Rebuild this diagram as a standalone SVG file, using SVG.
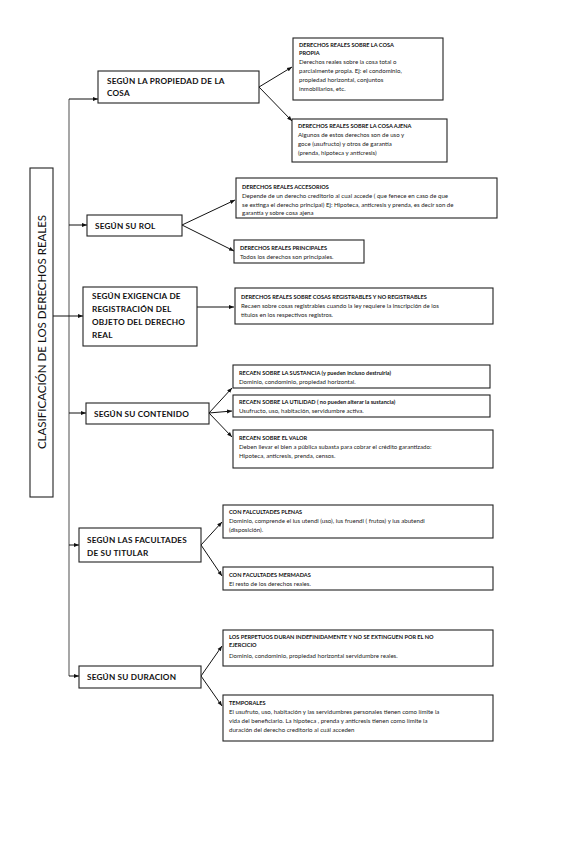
<svg xmlns="http://www.w3.org/2000/svg" width="587" height="848" viewBox="0 0 587 848">
<defs>
<marker id="ah" viewBox="0 0 10 10" refX="10" refY="5" markerWidth="5" markerHeight="5" orient="auto" markerUnits="userSpaceOnUse"><path d="M0,1 L10,5 L0,9 z" fill="#111"/></marker>
</defs>
<style>
.box{fill:#fff;stroke:#222;stroke-width:1.1}
.lt{font-family:Lato,"Open Sans","Liberation Sans",sans-serif;font-weight:bold;font-size:8.2px;fill:#111;letter-spacing:0.2px}
.ttl{font-family:Lato,"Open Sans","Liberation Sans",sans-serif;font-size:11.5px;fill:#111}
.h{font-family:Lato,"Open Sans","Liberation Sans",sans-serif;font-weight:bold;font-size:5.6px;fill:#111}
.t{font-family:Lato,"Open Sans","Liberation Sans",sans-serif;font-size:6.1px;fill:#222}
.c{fill:none;stroke:#111;stroke-width:1}
.v{fill:none;stroke:#777;stroke-width:1.3}
</style>
<rect width="587" height="848" fill="#fff"/>
<g id="connectors">
<path class="v" d="M69,99 V676"/>
<path class="c" d="M69,99 H98" marker-end="url(#ah)"/>
<path class="c" d="M69,225 H87" marker-end="url(#ah)"/>
<path class="c" d="M53,316 H83" marker-end="url(#ah)"/>
<path class="c" d="M69,413 H86" marker-end="url(#ah)"/>
<path class="c" d="M69,545 H79" marker-end="url(#ah)"/>
<path class="c" d="M69,676 H79" marker-end="url(#ah)"/>
<path class="c" d="M259,87 L292,67" marker-end="url(#ah)"/>
<path class="c" d="M259,87 L292,121" marker-end="url(#ah)"/>
<path class="c" d="M182,225 L235,200" marker-end="url(#ah)"/>
<path class="c" d="M182,225 L234,251" marker-end="url(#ah)"/>
<path class="c" d="M197,307 L234,307" marker-end="url(#ah)"/>
<path class="c" d="M209,413 L232,388" marker-end="url(#ah)"/>
<path class="c" d="M209,413 L232,411" marker-end="url(#ah)"/>
<path class="c" d="M209,413 L232,437" marker-end="url(#ah)"/>
<path class="c" d="M201,545 L222,522" marker-end="url(#ah)"/>
<path class="c" d="M201,545 L222,576" marker-end="url(#ah)"/>
<path class="c" d="M201,676 L222,646" marker-end="url(#ah)"/>
<path class="c" d="M201,676 L222,706" marker-end="url(#ah)"/>
</g>
<g id="title">
<rect class="box" x="30" y="168" width="23" height="329"/>
<text class="ttl" transform="translate(46,332) rotate(-90)" text-anchor="middle">CLASIFICACIÓN DE LOS DERECHOS REALES</text>
</g>
<g id="n1">
<rect class="box" x="98" y="71" width="161" height="32"/>
<text class="lt" x="107" y="84">SEGÚN LA PROPIEDAD DE LA</text>
<text class="lt" x="107" y="96">COSA</text>
</g>
<g id="n2">
<rect class="box" x="87" y="215" width="95" height="21"/>
<text class="lt" x="95" y="229">SEGÚN SU ROL</text>
</g>
<g id="n3">
<rect class="box" x="83" y="287" width="114" height="59"/>
<text class="lt" x="92" y="299">SEGÚN EXIGENCIA DE</text>
<text class="lt" x="92" y="312">REGISTRACIÓN DEL</text>
<text class="lt" x="92" y="325">OBJETO DEL DERECHO</text>
<text class="lt" x="92" y="338">REAL</text>
</g>
<g id="n4">
<rect class="box" x="86" y="403" width="123" height="21"/>
<text class="lt" x="94" y="417">SEGÚN SU CONTENIDO</text>
</g>
<g id="n5">
<rect class="box" x="79" y="528" width="122" height="34"/>
<text class="lt" x="87" y="543">SEGÚN LAS FACULTADES</text>
<text class="lt" x="87" y="556">DE SU TITULAR</text>
</g>
<g id="n6">
<rect class="box" x="79" y="666" width="122" height="22"/>
<text class="lt" x="87" y="680">SEGÚN SU DURACION</text>
</g>
<g id="r1">
<rect class="box" x="293" y="38" width="150" height="62"/>
<text class="h" x="299" y="47">DERECHOS REALES SOBRE LA COSA</text>
<text class="h" x="299" y="55">PROPIA</text>
<text class="t" x="299" y="64">Derechos reales sobre la cosa total o</text>
<text class="t" x="299" y="73">parcialmente propia. Ej: el condominio,</text>
<text class="t" x="299" y="82">propiedad horizontal, conjuntos</text>
<text class="t" x="299" y="91">inmobiliarios, etc.</text>
</g>
<g id="r2">
<rect class="box" x="292" y="119" width="155" height="43"/>
<text class="h" x="298" y="128">DERECHOS REALES SOBRE LA COSA AJENA</text>
<text class="t" x="298" y="137">Algunos de estos derechos son de uso y</text>
<text class="t" x="298" y="146">goce (usufructo) y otros de garantía</text>
<text class="t" x="298" y="155">(prenda, hipoteca y anticresis)</text>
</g>
<g id="r3">
<rect class="box" x="236" y="178" width="261" height="40"/>
<text class="h" x="242" y="189">DERECHOS REALES ACCESORIOS</text>
<text class="t" x="242" y="198">Depende de un derecho creditorio al cual accede ( que fenece en caso de que</text>
<text class="t" x="242" y="207">se extinga el derecho principal) Ej: Hipoteca, anticresis y prenda, es decir son de</text>
<text class="t" x="242" y="215">garantía y sobre cosa ajena</text>
</g>
<g id="r4">
<rect class="box" x="234" y="240" width="130" height="23"/>
<text class="h" x="240" y="250">DERECHOS REALES PRINCIPALES</text>
<text class="t" x="240" y="259">Todos los derechos son principales.</text>
</g>
<g id="r5">
<rect class="box" x="235" y="288" width="258" height="36"/>
<text class="h" x="241" y="299">DERECHOS REALES SOBRE COSAS REGISTRABLES Y NO REGISTRABLES</text>
<text class="t" x="241" y="308">Recaen sobre cosas registrables cuando la ley requiere la inscripción de los</text>
<text class="t" x="241" y="317">títulos en los respectivos registros.</text>
</g>
<g id="r6">
<rect class="box" x="233" y="365" width="257" height="23"/>
<text class="h" x="239" y="375">RECAEN SOBRE LA SUSTANCIA (y pueden incluso destruirla)</text>
<text class="t" x="239" y="384">Dominio, condominio, propiedad horizontal.</text>
</g>
<g id="r7">
<rect class="box" x="233" y="395" width="257" height="22"/>
<text class="h" x="239" y="404">RECAEN SOBRE LA UTILIDAD ( no pueden alterar la sustancia)</text>
<text class="t" x="239" y="413">Usufructo, uso, habitación, servidumbre activa.</text>
</g>
<g id="r8">
<rect class="box" x="233" y="430" width="260" height="38"/>
<text class="h" x="239" y="440">RECAEN SOBRE EL VALOR</text>
<text class="t" x="239" y="449">Deben llevar el bien a pública subasta para cobrar el crédito garantizado:</text>
<text class="t" x="239" y="458">Hipoteca, anticresis, prenda, censos.</text>
</g>
<g id="r9">
<rect class="box" x="223" y="505" width="270" height="33"/>
<text class="h" x="229" y="514">CON FALCULTADES PLENAS</text>
<text class="t" x="229" y="523">Dominio, comprende el ius utendi (uso), ius fruendi ( frutos) y ius abutendi</text>
<text class="t" x="229" y="532">(disposición).</text>
</g>
<g id="r10">
<rect class="box" x="223" y="567" width="270" height="23"/>
<text class="h" x="229" y="577">CON FACULTADES MERMADAS</text>
<text class="t" x="229" y="586">El resto de los derechos reales.</text>
</g>
<g id="r11">
<rect class="box" x="223" y="630" width="270" height="36"/>
<text class="h" x="229" y="639">LOS PERPETUOS DURAN INDEFINIDAMENTE Y NO SE EXTINGUEN POR EL NO</text>
<text class="h" x="229" y="647">EJERCICIO</text>
<text class="t" x="229" y="658">Dominio, condominio, propiedad horizontal servidumbre reales.</text>
</g>
<g id="r12">
<rect class="box" x="223" y="695" width="270" height="46"/>
<text class="h" x="229" y="705">TEMPORALES</text>
<text class="t" x="229" y="714">El usufruto, uso, habitación y las servidumbres personales tienen como límite la</text>
<text class="t" x="229" y="723">vida del beneficiario. La hipoteca , prenda y anticresis tienen como límite la</text>
<text class="t" x="229" y="732">duración del derecho creditorio al cuál acceden</text>
</g>
</svg>
